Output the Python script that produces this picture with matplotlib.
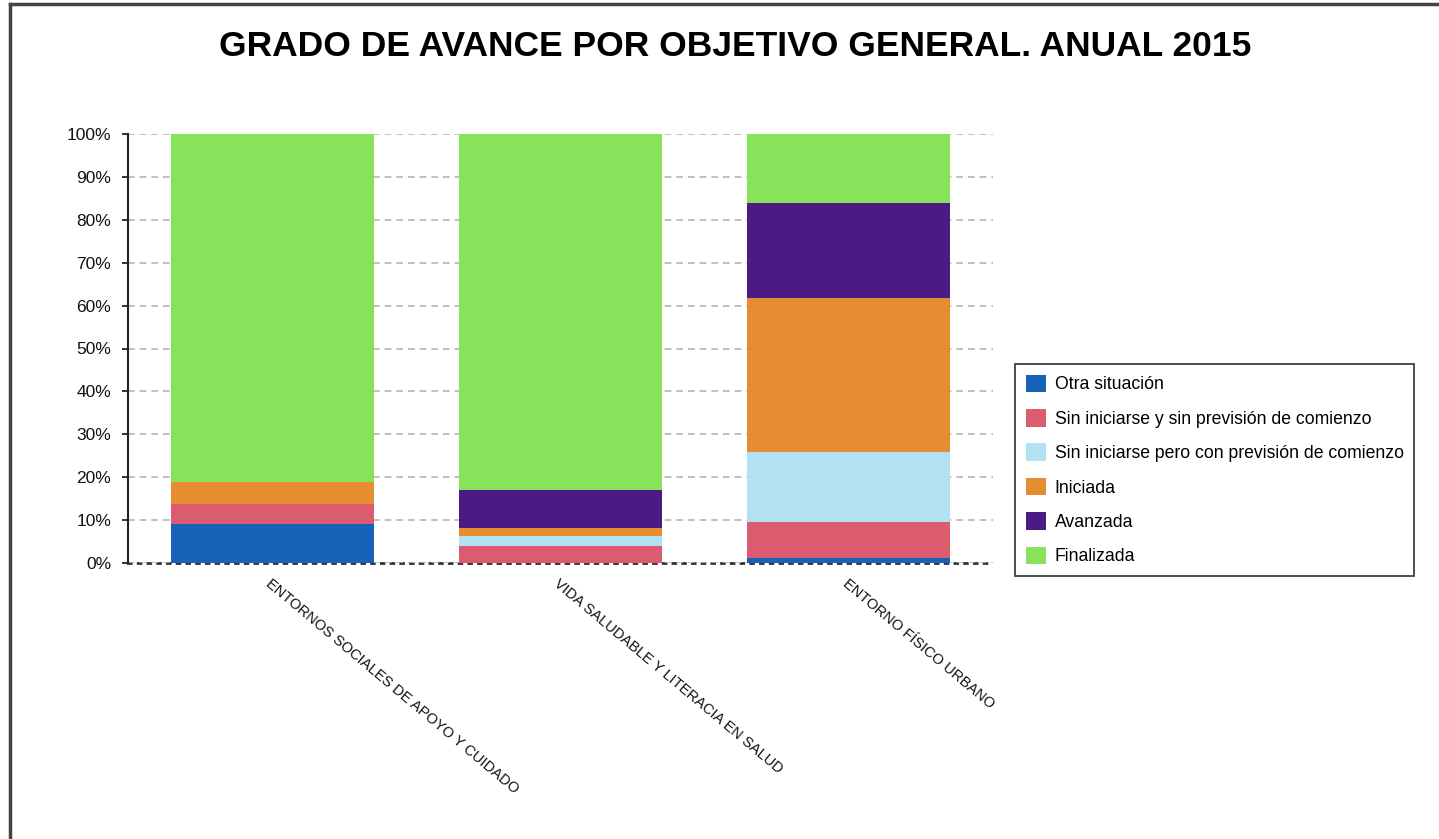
import matplotlib.pyplot as plt
import matplotlib.lines as mlines
import numpy as np

plt.rcParams['font.family'] = ['Liberation Sans', 'DejaVu Sans']

# categories and stacked series (percent)
categorias = ['ENTORNOS SOCIALES DE APOYO Y CUIDADO',
              'VIDA SALUDABLE Y LITERACIA EN SALUD',
              'ENTORNO FÍSICO URBANO']
otra = [9.1, 0.0, 1.2]
sin_sin = [4.6, 4.0, 8.4]
sin_con = [0.0, 2.3, 16.3]
iniciada = [5.1, 1.9, 35.9]
avanzada = [0.0, 8.8, 22.0]
finalizada = [81.2, 83.0, 16.2]

series = [
    ('Otra situación', otra, '#1662b8'),
    ('Sin iniciarse y sin previsión de comienzo', sin_sin, '#db5b6f'),
    ('Sin iniciarse pero con previsión de comienzo', sin_con, '#b4e1f1'),
    ('Iniciada', iniciada, '#e68c31'),
    ('Avanzada', avanzada, '#4b1b83'),
    ('Finalizada', finalizada, '#88e35b'),
]

fig = plt.figure(figsize=(14.39, 8.39), dpi=100)
ax = fig.add_axes([128 / 1439, 1 - 563 / 839, (993 - 128) / 1439, (563 - 134) / 839])

x = np.arange(len(categorias))
bottom = np.zeros(len(categorias))
for name, vals, col in series:
    ax.bar(x, vals, width=0.705, bottom=bottom, color=col, label=name, linewidth=0, zorder=3)
    bottom += np.array(vals)

ax.set_xlim(-0.5, 2.5)
ax.set_ylim(0, 100)
ax.set_yticks(np.arange(0, 101, 10))
ax.set_yticklabels([f'{v}%' for v in range(0, 101, 10)])
ax.yaxis.grid(True, color='#b5b5b5', linestyle=(0, (4, 3)), linewidth=1.2, zorder=0)

for s in ['top', 'right']:
    ax.spines[s].set_visible(False)
ax.spines['left'].set_color('#222222')
ax.spines['left'].set_linewidth(1.5)
ax.spines['bottom'].set_color('#333333')
ax.spines['bottom'].set_linestyle((0, (1, 2.5)))
ax.spines['bottom'].set_linewidth(2)
ax.spines['bottom'].set_zorder(1)

ax.tick_params(axis='y', length=4, width=1.2, labelsize=12.5, pad=8, colors='#111111')
ax.tick_params(axis='x', length=0, pad=10)
ax.set_xticks(x)
ax.set_xticklabels(categorias, rotation=-40, ha='left', va='top',
                   rotation_mode='anchor', fontsize=10.5, color='#111111')
for lbl in ax.get_xticklabels():
    lbl.set_x(lbl.get_position()[0] - 0.03)

fig.suptitle('GRADO DE AVANCE POR OBJETIVO GENERAL. ANUAL 2015',
             x=735 / 1439, y=1 - 47 / 839, va='center', fontsize=25.5,
             fontweight='bold')

leg = ax.legend(loc='upper left', bbox_to_anchor=(1015 / 1439, 1 - 364 / 839),
                bbox_transform=fig.transFigure, fontsize=12.7, frameon=True,
                fancybox=False, handlelength=1.15, handleheight=1.15,
                labelspacing=0.89, handletextpad=0.5, borderpad=0.6,
                borderaxespad=0)
leg.get_frame().set_edgecolor('#111111')
leg.get_frame().set_linewidth(1.3)

# page border (left and top)
fig.add_artist(mlines.Line2D([10 / 1439, 10 / 1439], [0, 1 - 4 / 839],
                             transform=fig.transFigure, color='#444444', linewidth=2.5))
fig.add_artist(mlines.Line2D([10 / 1439, 1], [1 - 4 / 839, 1 - 4 / 839],
                             transform=fig.transFigure, color='#444444', linewidth=2.5))

fig.savefig('out.png', dpi=100)
